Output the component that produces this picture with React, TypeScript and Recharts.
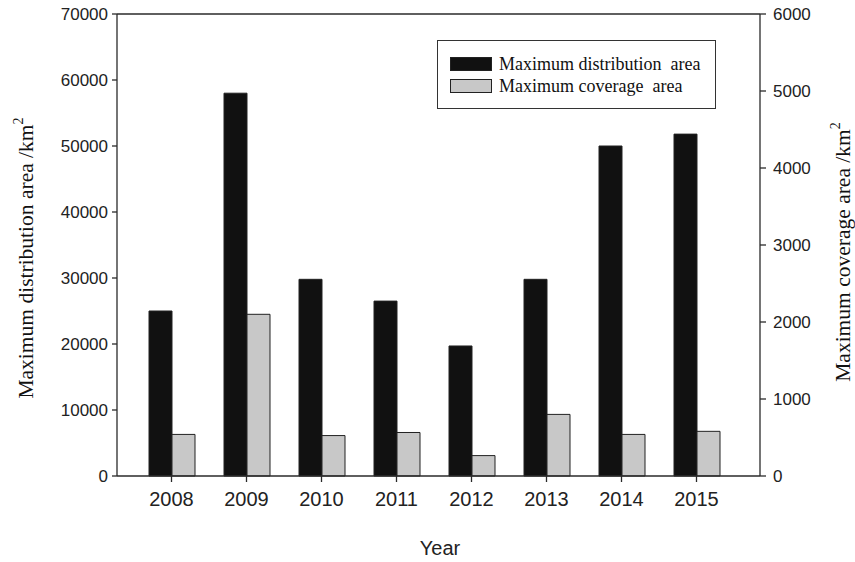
import React from 'react';
import {
  BarChart, Bar, XAxis, YAxis, ReferenceLine,
} from 'recharts';

const YEARS = ['2008', '2009', '2010', '2011', '2012', '2013', '2014', '2015'];
const DISTRIBUTION = [25000, 58000, 29800, 26500, 19700, 29800, 50000, 51800];
const COVERAGE = [540, 2100, 525, 565, 265, 800, 540, 580];
const LEFT_TICKS = [0, 10000, 20000, 30000, 40000, 50000, 60000, 70000];
const RIGHT_TICKS = [0, 1000, 2000, 3000, 4000, 5000, 6000];

const data = YEARS.map((year, i) => ({
  year,
  distribution: DISTRIBUTION[i],
  coverage: COVERAGE[i],
}));

const SANS = '"Liberation Sans", Arial, sans-serif';
const SERIF = '"Liberation Serif", "Times New Roman", serif';
const AXIS = '#2a2a2a';

function RotatedTitle({ x, y, text }: { x: number; y: number; text: string }) {
  return (
    <text
      x={x}
      y={y}
      transform={`rotate(-90 ${x} ${y})`}
      textAnchor="middle"
      fontFamily={SERIF}
      fontSize={21.5}
      fill="#111"
    >
      {text}
      <tspan dy={-10} fontSize={14}>2</tspan>
    </text>
  );
}

function LegendBox() {
  const rows = [
    { label: 'Maximum distribution  area', fill: '#111' },
    { label: 'Maximum coverage  area', fill: '#c8c8c8' },
  ];
  return (
    <div
      style={{
        position: 'absolute',
        left: 437,
        top: 40,
        width: 279,
        height: 69,
        border: '1.3px solid #333',
        background: '#fff',
        boxSizing: 'border-box',
        paddingTop: 12,
        paddingLeft: 12,
        fontFamily: SERIF,
        fontSize: 18,
        color: '#111',
      }}
    >
      {rows.map((r) => (
        <div key={r.label} style={{ display: 'flex', alignItems: 'center', height: 22, whiteSpace: 'pre' }}>
          <span
            style={{
              display: 'inline-block',
              width: 40,
              height: 12,
              background: r.fill,
              border: '1px solid #222',
              marginRight: 7,
            }}
          />
          {r.label}
        </div>
      ))}
    </div>
  );
}

export default function App() {
  return (
    <div style={{ position: 'absolute', left: 0, top: 0, width: 855, height: 562, background: '#fff' }}>
      <BarChart
        width={855}
        height={562}
        data={data}
        margin={{ top: 14, right: 0, bottom: 0, left: 0 }}
        barGap={0}
        barCategoryGap={0}
      >
        <XAxis
          dataKey="year"
          height={86}
          padding={{ left: 17, right: 26 }}
          tickSize={6}
          tickMargin={10}
          stroke={AXIS}
          strokeWidth={1.3}
          tick={{ fill: '#222', fontSize: 20, fontFamily: SANS }}
          label={{
            content: () => (
              <text x={440} y={555} textAnchor="middle" fontFamily={SANS} fontSize={20} fill="#222">
                Year
              </text>
            ),
          }}
        />
        <YAxis
          yAxisId="left"
          width={117}
          domain={[0, 70000]}
          ticks={LEFT_TICKS}
          interval={0}
          tickSize={5}
          tickMargin={4}
          stroke={AXIS}
          strokeWidth={1.3}
          tick={{ fill: '#222', fontSize: 17, fontFamily: SANS }}
          label={{ content: () => <RotatedTitle x={33} y={258} text="Maximum distribution area /km" /> }}
        />
        <YAxis
          yAxisId="right"
          orientation="right"
          width={95}
          domain={[0, 6000]}
          ticks={RIGHT_TICKS}
          interval={0}
          tickSize={6}
          tickMargin={7}
          stroke={AXIS}
          strokeWidth={1.3}
          tick={{ fill: '#222', fontSize: 17, fontFamily: SANS }}
          label={{ content: () => <RotatedTitle x={850} y={252} text="Maximum coverage area /km" /> }}
        />
        <ReferenceLine yAxisId="left" y={70000} stroke={AXIS} strokeWidth={1.3} />
        <Bar
          yAxisId="left"
          dataKey="distribution"
          name="Maximum distribution area"
          fill="#111"
          stroke="#222"
          strokeWidth={1}
          barSize={23}
          isAnimationActive={false}
        />
        <Bar
          yAxisId="right"
          dataKey="coverage"
          name="Maximum coverage area"
          fill="#c8c8c8"
          stroke="#222"
          strokeWidth={1}
          barSize={23}
          isAnimationActive={false}
        />
      </BarChart>
      <LegendBox />
    </div>
  );
}
